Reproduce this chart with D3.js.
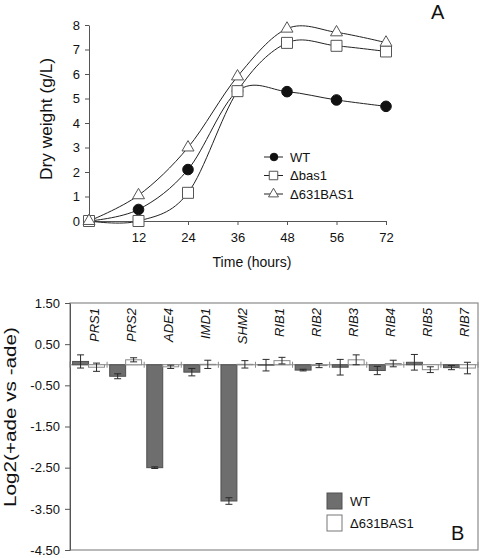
<!DOCTYPE html>
<html>
<head>
<meta charset="utf-8">
<script src="https://cdn.jsdelivr.net/npm/d3@7"></script>
<style>
  body { margin: 0; background: #fff; }
  svg { display: block; font-family: "Liberation Sans", Arial, sans-serif; }
</style>
</head>
<body>
<svg id="chart" width="480" height="558"></svg>
<script>
// ---------- Panel A data ----------
const times = ["0", "12", "24", "36", "48", "56", "72"];
const wtGrowth = [0, 0.47, 2.1, 5.3, 5.28, 4.94, 4.68];
const bas1Growth = [0, 0, 1.15, 5.3, 7.27, 7.15, 6.92];
const d631Growth = [0, 1.05, 3.0, 5.9, 7.85, 7.7, 7.28];
const yTicksA = [0, 1, 2, 3, 4, 5, 6, 7, 8];
const seriesNamesA = ["WT", "\u0394bas1", "\u0394631BAS1"];

// ---------- Panel B data ----------
const genes = ["PRS1", "PRS2", "ADE4", "IMD1", "SHM2", "RIB1", "RIB2", "RIB3", "RIB4", "RIB5", "RIB7"];
const wtLog2 = [0.08, -0.28, -2.50, -0.18, -3.31, -0.01, -0.13, -0.06, -0.14, 0.06, -0.07];
const wtErr = [0.16, 0.06, 0.02, 0.09, 0.08, 0.14, 0.02, 0.19, 0.10, 0.19, 0.05];
const d631Log2 = [-0.06, 0.12, -0.05, 0.01, 0.01, 0.10, -0.02, 0.12, 0.03, -0.12, -0.08];
const d631Err = [0.10, 0.05, 0.04, 0.10, 0.09, 0.08, 0.05, 0.12, 0.08, 0.07, 0.14];
const yTicksB = [1.5, 0.5, -0.5, -1.5, -2.5, -3.5, -4.5];
const seriesNamesB = ["WT", "\u0394631BAS1"];

(function () {
const svg = d3.select("#chart");

// ================= Panel A =================
const A = svg.append("g");
const xA = d3.scalePoint().domain(times).range([89, 386]);
const yA = d3.scaleLinear().domain([0, 8]).range([221, 25]);

const yAxisA = A.append("g").attr("transform", "translate(89,0)")
  .call(d3.axisLeft(yA).tickValues(yTicksA).tickSize(4).tickSizeOuter(0).tickPadding(5).tickFormat(d3.format("d")));
const xAxisA = A.append("g").attr("transform", "translate(0,221)")
  .call(d3.axisBottom(xA).tickValues(times.slice(1)).tickSize(4).tickSizeOuter(0).tickPadding(8));
[yAxisA, xAxisA].forEach(g => {
  g.selectAll("path").attr("stroke", "#555");
  g.selectAll("line").attr("stroke", "#555");
  g.selectAll("text").attr("font-size", 13).attr("fill", "#111")
    .attr("font-family", "Liberation Sans, Arial, sans-serif");
});

A.append("text").attr("x", 252).attr("y", 267).attr("text-anchor", "middle")
  .attr("font-size", 14).attr("fill", "#111").text("Time (hours)");
A.append("text").attr("transform", "translate(52,119) rotate(-90)")
  .attr("text-anchor", "middle").attr("font-size", 16).attr("fill", "#111")
  .attr("textLength", 122).attr("lengthAdjust", "spacingAndGlyphs")
  .text("Dry weight (g/L)");
A.append("text").attr("x", 431).attr("y", 19).attr("font-size", 20).attr("fill", "#111").text("A");

const lineA = d3.line().x((d, i) => xA(times[i])).y(d => yA(d)).curve(d3.curveCardinal.tension(0));
[wtGrowth, bas1Growth, d631Growth].forEach(s => {
  A.append("path").attr("d", lineA(s)).attr("fill", "none").attr("stroke", "#222").attr("stroke-width", 1);
});

const sqSym = d3.symbol().type(d3.symbolSquare);
const triSym = d3.symbol().type(d3.symbolTriangle);

function drawCircle(g, x, y, r) {
  g.append("circle").attr("cx", x).attr("cy", y).attr("r", r).attr("fill", "#111").attr("stroke", "#111");
}
function drawSquare(g, x, y, s) {
  g.append("path").attr("d", sqSym.size(s * s)()).attr("transform", `translate(${x},${y})`)
    .attr("fill", "#fff").attr("stroke", "#555").attr("stroke-width", 1);
}
function drawTri(g, x, y, w) {
  g.append("path").attr("d", triSym.size(w * w * Math.sqrt(3) / 4)()).attr("transform", `translate(${x},${y})`)
    .attr("fill", "#fff").attr("stroke", "#555").attr("stroke-width", 1);
}

wtGrowth.forEach((v, i) => drawCircle(A, xA(times[i]), yA(v), 5.3));
bas1Growth.forEach((v, i) => drawSquare(A, xA(times[i]), yA(v), 11));
d631Growth.forEach((v, i) => drawTri(A, xA(times[i]), yA(v), 12));

// Legend A
const legA = A.append("g");
const legRowsY = [157, 175.5, 194];
seriesNamesA.forEach((name, i) => {
  const y = legRowsY[i];
  legA.append("line").attr("x1", 264).attr("x2", 283).attr("y1", y).attr("y2", y).attr("stroke", "#222");
  if (i === 0) drawCircle(legA, 274, y, 3.8);
  if (i === 1) drawSquare(legA, 273.5, y, 8.5);
  if (i === 2) drawTri(legA, 273.5, y, 10);
  legA.append("text").attr("x", 290).attr("y", y).attr("dy", "0.36em")
    .attr("font-size", 13).attr("fill", "#111").text(name);
});

// ================= Panel B =================
const B = svg.append("g");
const bLeft = 70, bRight = 478, bTop = 303, bBottom = 550;
const yB = d3.scaleLinear().domain([-4.5, 1.5]).range([bBottom, bTop]);
const xB = d3.scaleBand().domain(genes).range([bLeft, bRight]).paddingInner(0.14).paddingOuter(0.07);
const xSub = d3.scaleBand().domain(seriesNamesB).range([0, xB.bandwidth()]);
const step = xB.step();

B.append("rect").attr("x", bLeft).attr("y", bTop).attr("width", bRight - bLeft).attr("height", bBottom - bTop)
  .attr("fill", "none").attr("stroke", "#8a8a8a").attr("stroke-width", 1.2);

const fmtB = v => d3.format(".2f")(v).replace("\u2212", "-");
const yAxisB = B.append("g").attr("transform", `translate(${bLeft},0)`)
  .call(d3.axisLeft(yB).tickValues(yTicksB).tickSize(5).tickSizeOuter(0).tickPadding(5).tickFormat(fmtB));
yAxisB.selectAll("path").attr("stroke", "#555");
yAxisB.selectAll("line").attr("stroke", "#555");
yAxisB.selectAll("text").attr("font-size", 13).attr("fill", "#111")
  .attr("font-family", "Liberation Sans, Arial, sans-serif");

B.append("text").attr("transform", `translate(16,417) rotate(-90)`)
  .attr("text-anchor", "middle").attr("font-size", 16).attr("fill", "#111")
  .attr("textLength", 180).attr("lengthAdjust", "spacingAndGlyphs")
  .text("Log2(+ade vs -ade)");

const y0 = yB(0);
B.append("line").attr("x1", bLeft).attr("x2", bRight).attr("y1", y0).attr("y2", y0)
  .attr("stroke", "#8a8a8a").attr("stroke-width", 1.2);
d3.range(genes.length + 1).forEach(i => {
  const x = bLeft + i * step;
  B.append("line").attr("x1", x).attr("x2", x).attr("y1", y0 - 3).attr("y2", y0 + 3)
    .attr("stroke", "#8a8a8a");
});

const seriesB = [
  { name: seriesNamesB[0], vals: wtLog2, errs: wtErr, fill: "#6e6e6e", stroke: "#505050" },
  { name: seriesNamesB[1], vals: d631Log2, errs: d631Err, fill: "#ffffff", stroke: "#8a8a8a" }
];
seriesB.forEach(s => {
  genes.forEach((g, i) => {
    const x = xB(g) + xSub(s.name);
    const w = xSub.bandwidth();
    const v = s.vals[i];
    B.append("rect").attr("x", x).attr("width", w)
      .attr("y", Math.min(yB(v), y0)).attr("height", Math.abs(yB(v) - y0))
      .attr("fill", s.fill).attr("stroke", s.stroke).attr("stroke-width", 1);
  });
});
seriesB.forEach(s => {
  genes.forEach((g, i) => {
    const cx = xB(g) + xSub(s.name) + xSub.bandwidth() / 2;
    const v = s.vals[i], e = s.errs[i];
    const y1 = yB(v + e), y2 = yB(v - e);
    const eg = B.append("g").attr("stroke", "#2a2a2a").attr("stroke-width", 1);
    eg.append("line").attr("x1", cx).attr("x2", cx).attr("y1", y1).attr("y2", y2);
    eg.append("line").attr("x1", cx - 3.5).attr("x2", cx + 3.5).attr("y1", y1).attr("y2", y1);
    eg.append("line").attr("x1", cx - 3.5).attr("x2", cx + 3.5).attr("y1", y2).attr("y2", y2);
  });
});

genes.forEach(g => {
  const x = xB(g) + xB.bandwidth() / 2 + 10;
  B.append("text").attr("transform", `translate(${x},308) rotate(-90)`)
    .attr("text-anchor", "end").attr("font-size", 13).attr("font-style", "italic")
    .attr("fill", "#111").text(g);
});

const legB = [{ y: 493, fill: "#6e6e6e", stroke: "#505050" }, { y: 515, fill: "#fff", stroke: "#777" }];
seriesNamesB.forEach((name, i) => {
  B.append("rect").attr("x", 327).attr("y", legB[i].y).attr("width", 15).attr("height", 16)
    .attr("fill", legB[i].fill).attr("stroke", legB[i].stroke);
  B.append("text").attr("x", 350).attr("y", legB[i].y + 8).attr("dy", "0.36em")
    .attr("font-size", 13).attr("fill", "#111").text(name);
});
B.append("text").attr("x", 451).attr("y", 540).attr("font-size", 20).attr("fill", "#111").text("B");
})();
</script>
</body>
</html>
